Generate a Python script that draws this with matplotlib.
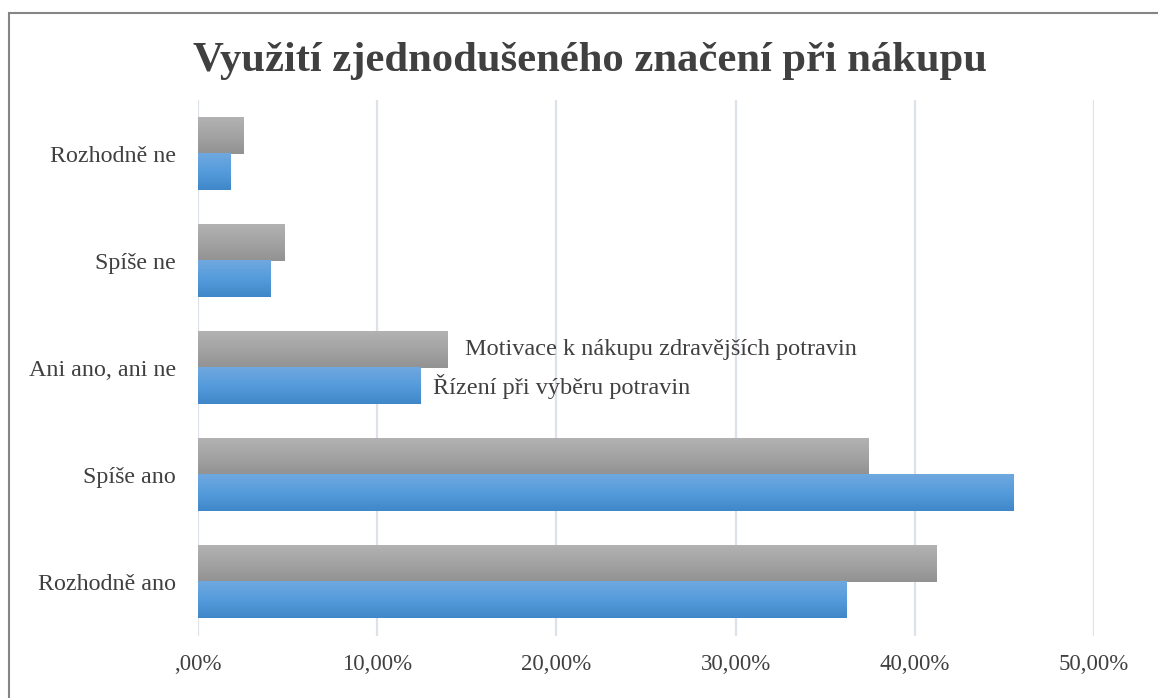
import numpy as np
import matplotlib
matplotlib.use("Agg")
import matplotlib.pyplot as plt
from matplotlib.colors import LinearSegmentedColormap
from matplotlib.patches import Rectangle

# data (bottom to top)
categories = ['Rozhodně ano', 'Spíše ano', 'Ani ano, ani ne', 'Spíše ne', 'Rozhodně ne']
motivace = [41.2, 37.4, 13.9, 4.85, 2.55]   # gray series
rizeni = [36.2, 45.5, 12.4, 4.05, 1.8]      # blue series
series_names = ['Motivace k nákupu zdravějších potravin', 'Řízení při výběru potravin']
xticks = [0, 10, 20, 30, 40, 50]
xticklabels = [',00%', '10,00%', '20,00%', '30,00%', '40,00%', '50,00%']
title = 'Využití zjednodušeného značení při nákupu'

plt.rcParams['font.family'] = ['Liberation Serif', 'DejaVu Serif']

W, H = 1158, 698
fig = plt.figure(figsize=(W / 100, H / 100), dpi=100)
ax = fig.add_axes([198 / W, (H - 636) / H, 896 / W, 536 / H])

gray_cmap = LinearSegmentedColormap.from_list('g', ['#B2B2B2', '#A3A3A3', '#929292'])
blue_cmap = LinearSegmentedColormap.from_list('b', ['#6FA8DF', '#559CDC', '#3F87C8'])

y = np.arange(len(categories))
h = 0.336
bars_g = ax.barh(y + h / 2, motivace, height=h, color='#A3A3A3', zorder=2)
bars_b = ax.barh(y - h / 2, rizeni, height=h, color='#559CDC', zorder=2)

# vertical gradient fill like the Excel bars
grad = np.linspace(0, 1, 64).reshape(-1, 1)
for bars, cmap in [(bars_g, gray_cmap), (bars_b, blue_cmap)]:
    for p in bars:
        x0, y0 = p.get_x(), p.get_y()
        ax.imshow(grad, cmap=cmap, aspect='auto', origin='upper',
                  extent=[x0, x0 + p.get_width(), y0, y0 + p.get_height()],
                  zorder=3, interpolation='bilinear')

ax.set_xlim(0, 50)
ax.set_ylim(-0.5, len(categories) - 0.5)

ax.set_xticks(xticks)
ax.set_xticklabels(xticklabels, fontsize=16.5, color='#404040')
ax.set_yticks(y)
ax.set_yticklabels(categories, fontsize=17.3, color='#404040')
ax.tick_params(axis='x', length=0, pad=13)
ax.tick_params(axis='y', length=0, pad=16)
ax.grid(axis='x', color='#DDE2EA', linewidth=1.6, zorder=0)
for s in ax.spines.values():
    s.set_visible(False)

# series labels next to the middle category
i = categories.index('Ani ano, ani ne')
ax.annotate(series_names[0], (motivace[i], i + h / 2), xytext=(18, 0),
            textcoords='offset pixels', va='center', ha='left',
            fontsize=17.5, color='#404040')
ax.annotate(series_names[1], (rizeni[i], i - h / 2), xytext=(13, 0),
            textcoords='offset pixels', va='center', ha='left',
            fontsize=17.5, color='#404040')

fig.text(590 / W, 1 - 61 / H, title, ha='center', va='center',
         fontsize=30.7, fontweight='bold', color='#404040')

# chart frame (cropped at right and bottom)
fig.patches.append(Rectangle((9 / W, -0.1), 1.2, 1 - 13 / H + 0.1,
                             transform=fig.transFigure, fill=False,
                             edgecolor='#858585', linewidth=1.5))

fig.savefig('out.png', dpi=100)
